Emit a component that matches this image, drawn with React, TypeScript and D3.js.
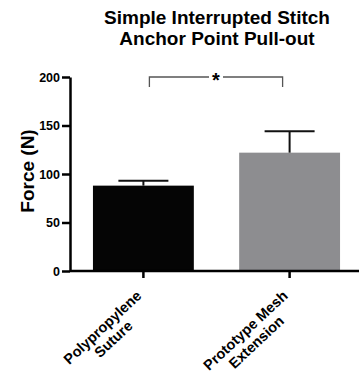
import * as d3 from 'd3';
import { useEffect, useRef } from 'react';

const categories = ['Polypropylene Suture', 'Prototype Mesh Extension'];
const labelLines = [['Polypropylene', 'Suture'], ['Prototype Mesh', 'Extension']];
const means = [88, 122];
const errorTops = [93, 144];
const barColors = ['#050505', '#8d8d90'];
const yTicks = [0, 50, 100, 150, 200];
const titleLines = ['Simple Interrupted Stitch', 'Anchor Point Pull-out'];

const App = () => {
  const ref = useRef<SVGSVGElement | null>(null);

  useEffect(() => {
    const svg = d3.select(ref.current!);
    svg.selectAll('*').remove();
    const font = 'Liberation Sans, Arial, Helvetica, sans-serif';

    const x = d3.scaleBand().domain(categories).range([70, 363]).paddingInner(0.31).paddingOuter(0.157);
    const y = d3.scaleLinear().domain([0, 200]).range([271, 77]);

    // title
    svg.append('g').selectAll('text').data(titleLines).enter().append('text')
      .attr('x', 217).attr('y', (d, i) => 24 + i * 21)
      .attr('text-anchor', 'middle')
      .attr('font-family', font).attr('font-weight', 'bold').attr('font-size', 19)
      .text(d => d);

    // bars
    svg.selectAll('.bar').data(categories).enter().append('rect')
      .attr('x', d => x(d)!)
      .attr('y', (d, i) => y(means[i]))
      .attr('width', x.bandwidth())
      .attr('height', (d, i) => y(0) - y(means[i]))
      .attr('fill', (d, i) => barColors[i]);

    // error bars (up only)
    const err = svg.append('g').attr('stroke', '#111').attr('stroke-width', 2);
    categories.forEach((c, i) => {
      const cx = x(c)! + x.bandwidth() / 2;
      err.append('line').attr('x1', cx).attr('x2', cx).attr('y1', y(means[i])).attr('y2', y(errorTops[i]));
      err.append('line').attr('x1', cx - 25).attr('x2', cx + 25).attr('y1', y(errorTops[i])).attr('y2', y(errorTops[i]));
    });

    // y axis
    const yAxis = svg.append('g').attr('transform', 'translate(70,0)')
      .call(d3.axisLeft(y).tickValues(yTicks).tickSize(8).tickSizeOuter(0).tickPadding(2));
    yAxis.select('.domain').attr('stroke-width', 2.5).attr('stroke', '#000');
    yAxis.selectAll('.tick line').attr('stroke-width', 2.5);
    yAxis.selectAll('.tick text').attr('font-family', font).attr('font-weight', 'bold').attr('font-size', 12.5).attr('fill', '#000');

    // x axis
    const xAxis = svg.append('g').attr('transform', 'translate(0,271)')
      .call(d3.axisBottom(x).tickSize(7).tickSizeOuter(0).tickFormat(() => ''));
    xAxis.select('.domain').attr('d', 'M70,0H359').attr('stroke-width', 2.5).attr('stroke', '#000');
    xAxis.selectAll('.tick line').attr('stroke-width', 2.5);

    // rotated category labels, lines centred in a right-aligned block
    categories.forEach((c, i) => {
      const cx = x(c)! + x.bandwidth() / 2;
      const g = svg.append('g').attr('transform', `translate(${cx - 1},${297}) rotate(-43)`);
      const t = g.append('text')
        .attr('text-anchor', 'middle')
        .attr('font-family', font).attr('font-weight', 'bold').attr('font-size', 14.5);
      const spans = labelLines[i].map((ln, j) => t.append('tspan').attr('y', j * 16).text(ln));
      const w = d3.max(spans, s => (s.node() as SVGTextContentElement).getComputedTextLength()) || 0;
      spans.forEach(s => s.attr('x', -w / 2));
    });

    // y label
    svg.append('text')
      .attr('transform', 'translate(34,171) rotate(-90)')
      .attr('text-anchor', 'middle')
      .attr('font-family', font).attr('font-weight', 'bold').attr('font-size', 19)
      .text('Force (N)');

    // significance bracket
    const bx1 = x(categories[0])! + x.bandwidth() / 2 + 6;
    const bx2 = x(categories[1])! + x.bandwidth() / 2 - 7;
    const by = y(200);
    svg.append('path')
      .attr('d', `M${bx1},${by + 10}V${by}H${bx2}V${by + 10}`)
      .attr('fill', 'none').attr('stroke', '#555').attr('stroke-width', 1.3);
    svg.append('rect').attr('x', (bx1 + bx2) / 2 - 7).attr('y', by - 5).attr('width', 14).attr('height', 10).attr('fill', '#fff');
    svg.append('text')
      .attr('x', (bx1 + bx2) / 2).attr('y', by + 10)
      .attr('text-anchor', 'middle')
      .attr('font-family', font).attr('font-weight', 'bold').attr('font-size', 20)
      .text('*');
  }, []);

  return <svg ref={ref} width={361} height={379} style={{ position: 'absolute', left: 0, top: 0 }} />;
};

export default App;
